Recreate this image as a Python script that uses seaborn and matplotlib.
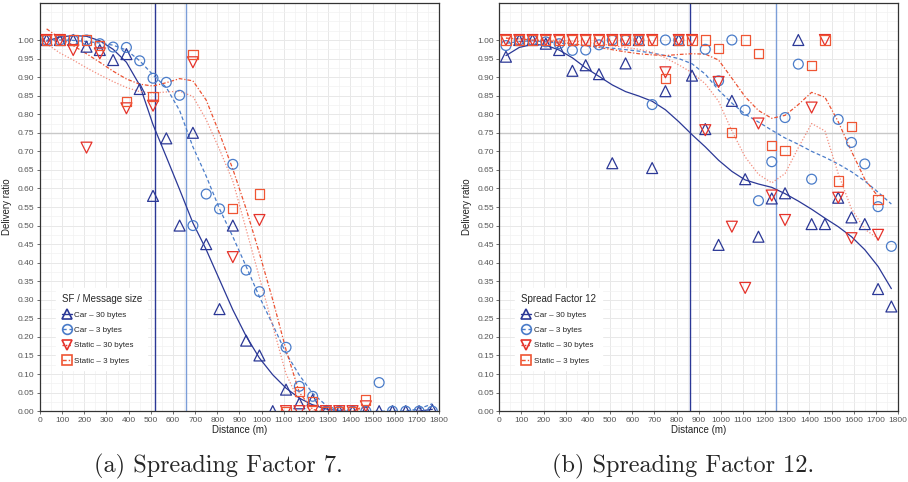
import numpy as np
import pandas as pd
import matplotlib
matplotlib.use("Agg")
import matplotlib.pyplot as plt
from matplotlib.lines import Line2D
import seaborn as sns

sns.set_theme(style="whitegrid")
plt.rcParams['font.family'] = ['Liberation Sans', 'DejaVu Sans']

# distances of the measurement bins (m)
dist = [30, 90, 150, 210, 270, 330, 390, 450, 510, 570, 630, 690, 750, 810, 870,
        930, 990, 1050, 1110, 1170, 1230, 1290, 1350, 1410, 1470, 1530, 1590, 1650, 1710, 1770]
nan = np.nan

# ---- Spreading factor 7: measured delivery ratio
sf7_car30 = [1.00, 1.00, 1.00, 0.982, 0.973, 0.946, 0.962, 0.868, 0.58, 0.735, 0.50, 0.75, 0.45, 0.275, 0.50,
             0.19, 0.15, 0.00, 0.058, 0.021, 0.03, 0, 0, 0, 0, 0, 0, 0, 0, 0.003]
sf7_car3 = [1.00, 1.00, 1.00, 1.00, 0.99, 0.981, 0.98, 0.944, 0.897, 0.886, 0.851, 0.50, 0.585, 0.545, 0.665,
            0.38, 0.322, nan, 0.172, 0.067, 0.04, 0, 0, 0, 0, 0.077, 0, 0, 0, 0]
sf7_static30 = [1.00, 1.00, 0.973, 0.71, 0.964, nan, 0.816, nan, 0.823, nan, nan, 0.94, nan, nan, 0.415,
                nan, 0.515, nan, 0, 0, 0, 0, 0, 0, 0.013, nan, nan, nan, nan, nan]
sf7_static3 = [1.00, 1.00, 1.00, 1.00, 0.985, nan, 0.834, nan, 0.847, nan, nan, 0.96, nan, nan, 0.545,
               nan, 0.585, nan, 0, 0.052, 0.025, 0, 0, 0, 0.03, nan, nan, nan, nan, nan]

# ---- Spreading factor 7: smoothed trend read along the bins
sf7_car30_fit = [0.997, 1.008, 1.012, 1.01, 0.998, 0.975, 0.94, 0.878, 0.772, 0.685, 0.597, 0.507, 0.435, 0.354, 0.273,
                 0.202, 0.143, 0.098, 0.062, 0.035, 0.017, 0.006, 0.001, -0.002, -0.003, -0.003, -0.003, -0.002, 0.0, 0.005]
sf7_car3_fit = [1.0, 1.0, 0.999, 0.996, 0.992, 0.986, 0.973, 0.944, 0.906, 0.872, 0.81, 0.712, 0.633, 0.545, 0.47,
                0.39, 0.308, 0.233, 0.156, 0.097, 0.048, 0.016, 0.002, -0.003, -0.003, 0.0, 0.0, 0.0, 0.006, 0.02]
sf7_static30_fit = [0.99, 0.965, 0.946, 0.925, 0.906, 0.888, 0.872, 0.861, 0.857, 0.86, 0.862, 0.848, 0.785, 0.705, 0.62,
                    0.49, 0.36, 0.23, 0.10, 0.025, 0.0, -0.005, -0.005, 0.0, 0.01, nan, nan, nan, nan, nan]
sf7_static3_fit = [1.03, 1.005, 0.985, 0.963, 0.94, 0.916, 0.895, 0.881, 0.876, 0.885, 0.896, 0.89, 0.838, 0.748, 0.652,
                   0.545, 0.425, 0.30, 0.165, 0.05, 0.005, -0.005, -0.005, 0.0, 0.015, nan, nan, nan, nan, nan]

# ---- Spreading factor 12: measured delivery ratio
sf12_car30 = [0.955, 1.00, 1.00, 0.99, 0.973, 0.917, 0.932, 0.908, 0.668, 0.937, 1.00, 0.655, 0.862, 1.00, 0.904,
              0.76, 0.448, 0.836, 0.625, 0.47, 0.573, 0.587, 1.00, 0.504, 0.504, 0.575, 0.522, 0.504, 0.329, 0.282]
sf12_car3 = [0.985, 1.00, 1.00, 0.995, 0.99, 0.972, 0.973, 0.987, 1.00, 1.00, 1.00, 0.826, 1.00, 1.00, nan,
             0.975, 0.89, 1.00, 0.811, 0.567, 0.672, 0.791, 0.935, 0.625, nan, 0.786, 0.724, 0.666, 0.551, 0.444]
sf12_static30 = [1.00, 1.00, 1.00, 1.00, 1.00, 1.00, 1.00, 1.00, 1.00, 1.00, 1.00, 1.00, 0.913, 1.00, 1.00,
                 0.757, 0.887, 0.497, 0.332, 0.775, 0.581, 0.515, nan, 0.818, 1.00, 0.575, 0.466, nan, 0.475, nan]
sf12_static3 = [1.00, 1.00, 1.00, 1.00, 1.00, 1.00, 1.00, 1.00, 1.00, 1.00, 1.00, 1.00, 0.897, 1.00, 1.00,
                1.00, 0.977, 0.75, 1.00, 0.964, 0.716, 0.703, nan, 0.931, 1.00, 0.62, 0.766, nan, 0.571, nan]

# ---- Spreading factor 12: smoothed trend read along the bins
sf12_car30_fit = [0.958, 0.98, 0.988, 0.986, 0.973, 0.952, 0.925, 0.902, 0.879, 0.861, 0.849, 0.835, 0.812, 0.78, 0.745,
                  0.712, 0.676, 0.646, 0.623, 0.612, 0.603, 0.586, 0.566, 0.544, 0.52, 0.497, 0.47, 0.435, 0.39, 0.33]
sf12_car3_fit = [0.991, 0.996, 0.998, 0.995, 0.992, 0.988, 0.985, 0.982, 0.978, 0.974, 0.97, 0.965, 0.958, 0.95, 0.936,
                 0.908, 0.865, 0.83, 0.80, 0.779, 0.757, 0.736, 0.719, 0.70, 0.684, 0.666, 0.645, 0.62, 0.59, 0.558]
sf12_static30_fit = [1.005, 1.003, 1.0, 1.0, 0.999, 0.997, 0.994, 0.99, 0.985, 0.98, 0.975, 0.967, 0.952, 0.933, 0.912,
                     0.882, 0.835, 0.755, 0.685, 0.638, 0.615, 0.64, 0.71, 0.775, 0.755, 0.64, 0.545, 0.49, 0.465, nan]
sf12_static3_fit = [1.005, 1.003, 1.0, 0.998, 0.995, 0.99, 0.985, 0.98, 0.974, 0.968, 0.963, 0.96, 0.958, 0.961, 0.963,
                    0.962, 0.946, 0.897, 0.847, 0.81, 0.789, 0.797, 0.826, 0.859, 0.846, 0.78, 0.70, 0.625, 0.578, nan]

# distance where car trends cross 0.75
sf7_cross = [520, 660]
sf12_cross = [860, 1250]

series_names = ["Car \u2013 30 bytes", "Car \u2013 3 bytes", "Static \u2013 30 bytes", "Static \u2013 3 bytes"]
colors = ["#2b3896", "#4a7cc9", "#e5322a", "#ef5533"]
line_colors = ["#2b3896", "#4a7cc9", "#f38c7c", "#ec5232"]
markers = ["^", "o", "v", "s"]
msizes = [62, 50, 62, 44]
linestyles = ["-", (0, (3, 2)), (0, (1, 1.5)), (0, (3, 1.5, 1, 1.5))]

panels = [
    ([sf7_car30, sf7_car3, sf7_static30, sf7_static3],
     [sf7_car30_fit, sf7_car3_fit, sf7_static30_fit, sf7_static3_fit], sf7_cross, "SF / Message size",
     "(a) Spreading Factor 7."),
    ([sf12_car30, sf12_car3, sf12_static30, sf12_static3],
     [sf12_car30_fit, sf12_car3_fit, sf12_static30_fit, sf12_static3_fit], sf12_cross, "Spread Factor 12",
     "(b) Spreading Factor 12."),
]

fig = plt.figure(figsize=(9.08, 4.82), dpi=100)
ax_rects = [[0.044, 0.147, 0.4395, 0.847], [0.5499, 0.147, 0.4391, 0.847]]
caption_x = [0.241, 0.752]

for p, (points, fits, cross, leg_title, caption) in enumerate(panels):
    ax = fig.add_axes(ax_rects[p])
    ax.set_facecolor("white")

    for i in range(4):
        df = pd.DataFrame({"Distance": dist, "Ratio": fits[i]}).dropna()
        sns.lineplot(data=df, x="Distance", y="Ratio", ax=ax, color=line_colors[i],
                     linestyle=linestyles[i], linewidth=0.9, zorder=3)
    for i in range(4):
        df = pd.DataFrame({"Distance": dist, "Ratio": points[i]}).dropna()
        sns.scatterplot(data=df, x="Distance", y="Ratio", ax=ax, marker=markers[i], s=msizes[i],
                        facecolor="none", edgecolor=colors[i], linewidth=0.9, zorder=4)

    ax.axhline(0.75, color="#c8c8c8", lw=1.0, zorder=2)
    ax.axvline(cross[0], color=colors[0], lw=1.0, zorder=2)
    ax.axvline(cross[1], color="#7b9ed8", lw=1.0, zorder=2)

    ax.set_xlim(0, 1800)
    ax.set_ylim(0, 1.1)
    ax.set_xticks(np.arange(0, 1801, 100))
    ax.set_xticks(np.arange(50, 1800, 100), minor=True)
    ax.set_yticks(np.arange(0, 1.001, 0.05))
    ax.set_yticks(np.arange(0.025, 1.11, 0.025), minor=True)
    ax.set_yticklabels([f"{v:.2f}" for v in np.arange(0, 1.001, 0.05)])
    ax.grid(which="major", color="#e8e8e8", lw=0.7)
    ax.grid(which="minor", color="#f2f2f2", lw=0.5)
    ax.tick_params(axis="both", which="major", labelsize=6, colors="#555555", length=2.5,
                   width=0.6, direction="out", pad=1.5, bottom=True, left=True)
    ax.tick_params(which="minor", length=0)
    for s in ax.spines.values():
        s.set_color("#333333")
        s.set_linewidth(0.9)
    ax.set_xlabel("Distance (m)", fontsize=7, color="#222222", labelpad=1)
    ax.set_ylabel("Delivery ratio", fontsize=7, color="#222222", labelpad=4)

    handles = [Line2D([0], [0], color=colors[i], marker=markers[i], markersize=7, markerfacecolor="none",
                      markeredgewidth=1.2, linestyle=linestyles[i], linewidth=1.0) for i in range(4)]
    leg = ax.legend(handles, series_names, title=leg_title, loc="lower left", bbox_to_anchor=(0.03, 0.09),
                    fontsize=5.8, title_fontsize=7, frameon=True, handlelength=1.3, handletextpad=0.3,
                    labelspacing=0.95, borderpad=0.7)
    leg.get_frame().set_edgecolor("white")
    leg.get_frame().set_facecolor("white")
    leg.get_frame().set_alpha(1)
    leg._legend_box.align = "left"

    fig.text(caption_x[p], 0.032, caption, family="cmr10", fontsize=17.5, ha="center", va="center")

fig.savefig("out.png", dpi=100)
